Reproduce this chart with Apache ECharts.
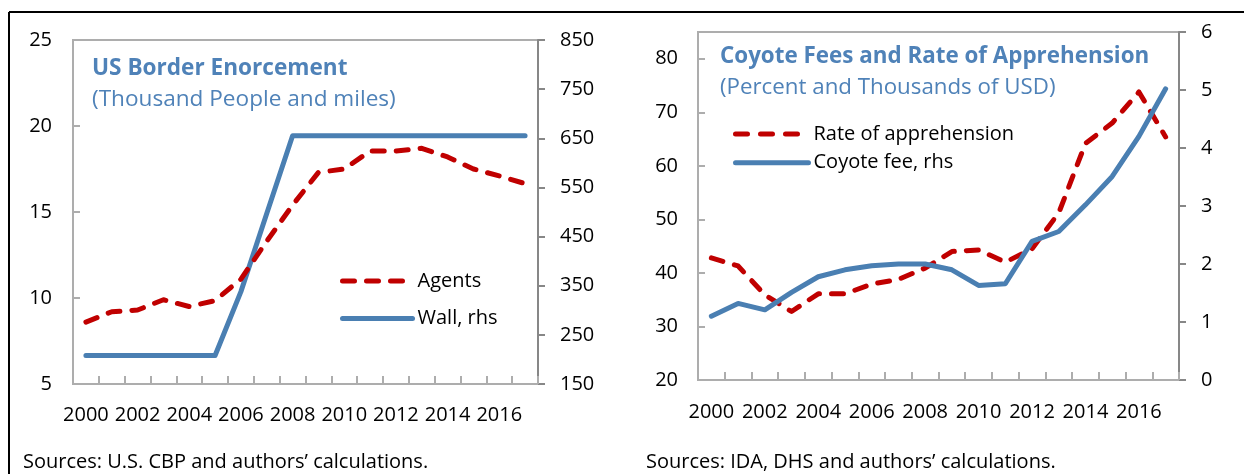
<!DOCTYPE html>
<html><head><meta charset="utf-8">
<script src="https://cdn.jsdelivr.net/npm/echarts@6/dist/echarts.min.js"></script>
<style>html,body{margin:0;padding:0;background:#fff}#c{width:1244px;height:474px}</style>
</head><body><div id="c"></div>
<script>
// ---- data ----
const years = ['2000','2001','2002','2003','2004','2005','2006','2007','2008','2009','2010','2011','2012','2013','2014','2015','2016','2017'];
const agents = [8.6, 9.2, 9.3, 9.9, 9.5, 9.85, 11.1, 13.3, 15.4, 17.3, 17.5, 18.55, 18.55, 18.7, 18.2, 17.5, 17.1, 16.65];
const wall = [208, 208, 208, 208, 208, 208, 338, 497, 655, 655, 655, 655, 655, 655, 655, 655, 655, 655];
const apprehension = [42.8, 41.3, 35.9, 32.8, 36.1, 36.1, 37.9, 38.8, 40.9, 44.0, 44.3, 42.0, 44.5, 51.2, 64.2, 68.0, 73.8, 65.4];
const coyoteFee = [1.10, 1.32, 1.21, 1.51, 1.78, 1.90, 1.97, 2.00, 2.00, 1.90, 1.63, 1.66, 2.39, 2.56, 3.02, 3.51, 4.20, 5.02];

const names = {agents: 'Agents', wall: 'Wall, rhs', rate: 'Rate of apprehension', fee: 'Coyote fee, rhs'};
const titles = ['US Border Enorcement', 'Coyote Fees and Rate of Apprehension'];
const subtitles = ['(Thousand People and miles)', '(Percent and Thousands of USD)'];
const sources = ['Sources: U.S. CBP and authors\u2019 calculations.', 'Sources: IDA, DHS and authors\u2019 calculations.'];

// ---- style ----
const FONT = '"Open Sans", "Noto Sans", sans-serif';
const RED = '#C00000';
const BLUE = '#4A7FB2';
const TITLE_BLUE = '#4F82B8';
const LIGHT = '#ADADAD';
const DARK = '#878787';
const FS = 20;

function xAxis(gridIndex, margin) {
  return {
    type: 'category', gridIndex, data: years, boundaryGap: true,
    axisLine: {show: true, lineStyle: {color: LIGHT, width: 2}},
    axisTick: {show: true, inside: true, length: 8, interval: 0, lineStyle: {color: LIGHT, width: 2}},
    axisLabel: {interval: 1, color: '#000', fontSize: FS, fontFamily: FONT, margin},
    splitLine: {show: false}
  };
}
function yAxis(gridIndex, position, min, max, interval, isRight, margin, hideMax) {
  return {
    type: 'value', gridIndex, position, min, max, interval,
    axisLine: {show: true, lineStyle: {color: isRight ? DARK : LIGHT, width: 2}},
    axisTick: {show: true, inside: !isRight, length: 7, lineStyle: {color: isRight ? DARK : LIGHT, width: 2}},
    axisLabel: {color: '#000', fontSize: FS, fontFamily: FONT, margin,
      formatter: v => (hideMax && v === max) ? '' : String(v)},
    splitLine: {show: false}
  };
}
const dash = {type: [12, 12], width: 5, cap: 'round', join: 'round', color: RED};
const solid = {type: 'solid', width: 5, cap: 'round', join: 'round', color: BLUE};
const hiddenSymbol = {opacity: 0, color: 'transparent', borderWidth: 0, borderColor: 'transparent'};

const option = {
  animation: false,
  backgroundColor: '#fff',
  textStyle: {fontFamily: FONT},
  grid: [
    {left: 73, top: 40, width: 465, height: 344, show: true, borderColor: LIGHT, borderWidth: 2, containLabel: false},
    {left: 698, top: 32, width: 481, height: 348, show: true, borderColor: LIGHT, borderWidth: 2, containLabel: false}
  ],
  xAxis: [xAxis(0, 21), xAxis(1, 22)],
  yAxis: [
    yAxis(0, 'left', 5, 25, 5, false, 21, false),
    yAxis(0, 'right', 150, 850, 100, true, 22, false),
    yAxis(1, 'left', 20, 85, 10, false, 20, true),
    yAxis(1, 'right', 0, 6, 1, true, 22, false)
  ],
  legend: [
    {
      orient: 'vertical', left: 335, top: 266, itemWidth: 70, itemHeight: 10, itemGap: 17.6,
      textStyle: {color: '#000', fontSize: FS, fontFamily: FONT},
      itemStyle: hiddenSymbol,
      lineStyle: {width: 5},
      data: [
        {name: names.agents, lineStyle: {type: [12, 12], width: 5, cap: 'round'}, itemStyle: hiddenSymbol},
        {name: names.wall, lineStyle: {width: 5, cap: 'round'}, itemStyle: hiddenSymbol}
      ]
    },
    {
      orient: 'vertical', left: 728, top: 119, itemWidth: 73, itemHeight: 10, itemGap: 8.7,
      textStyle: {color: '#000', fontSize: FS, fontFamily: FONT},
      itemStyle: hiddenSymbol,
      lineStyle: {width: 5},
      data: [
        {name: names.rate, lineStyle: {type: [12, 13], width: 5, cap: 'round'}, itemStyle: hiddenSymbol},
        {name: names.fee, lineStyle: {width: 5, cap: 'round'}, itemStyle: hiddenSymbol}
      ]
    }
  ],
  series: [
    {name: names.wall, type: 'line', xAxisIndex: 0, yAxisIndex: 1, data: wall, symbol: 'none', lineStyle: solid, itemStyle: {color: BLUE}},
    {name: names.agents, type: 'line', xAxisIndex: 0, yAxisIndex: 0, data: agents, symbol: 'none', lineStyle: dash, itemStyle: {color: RED}},
    {name: names.rate, type: 'line', xAxisIndex: 1, yAxisIndex: 2, data: apprehension, symbol: 'none', lineStyle: dash, itemStyle: {color: RED}},
    {name: names.fee, type: 'line', xAxisIndex: 1, yAxisIndex: 3, data: coyoteFee, symbol: 'none', lineStyle: solid, itemStyle: {color: BLUE}}
  ],
  graphic: [
    {type: 'line', shape: {x1: 9, y1: 12, x2: 1244, y2: 12}, style: {stroke: '#000', lineWidth: 2}, silent: true},
    {type: 'line', shape: {x1: 9, y1: 12, x2: 9, y2: 474}, style: {stroke: '#000', lineWidth: 2}, silent: true},
    {type: 'text', x: 92, y: 69, style: {text: titles[0], font: 'bold 22.6px ' + FONT, fill: TITLE_BLUE, align: 'left', verticalAlign: 'middle'}},
    {type: 'text', x: 92, y: 100, style: {text: subtitles[0], font: '22.6px ' + FONT, fill: TITLE_BLUE, align: 'left', verticalAlign: 'middle'}},
    {type: 'text', x: 720, y: 57, style: {text: titles[1], font: 'bold 22.4px ' + FONT, fill: TITLE_BLUE, align: 'left', verticalAlign: 'middle'}},
    {type: 'text', x: 720, y: 88, style: {text: subtitles[1], font: '22.3px ' + FONT, fill: TITLE_BLUE, align: 'left', verticalAlign: 'middle'}},
    {type: 'text', x: 23, y: 462, style: {text: sources[0], font: '20px ' + FONT, fill: '#000', align: 'left', verticalAlign: 'middle'}},
    {type: 'text', x: 646, y: 462, style: {text: sources[1], font: '20px ' + FONT, fill: '#000', align: 'left', verticalAlign: 'middle'}}
  ]
};
const chart = echarts.init(document.getElementById('c'), null, {renderer: 'canvas'});
chart.setOption(option);
</script>
</body></html>
